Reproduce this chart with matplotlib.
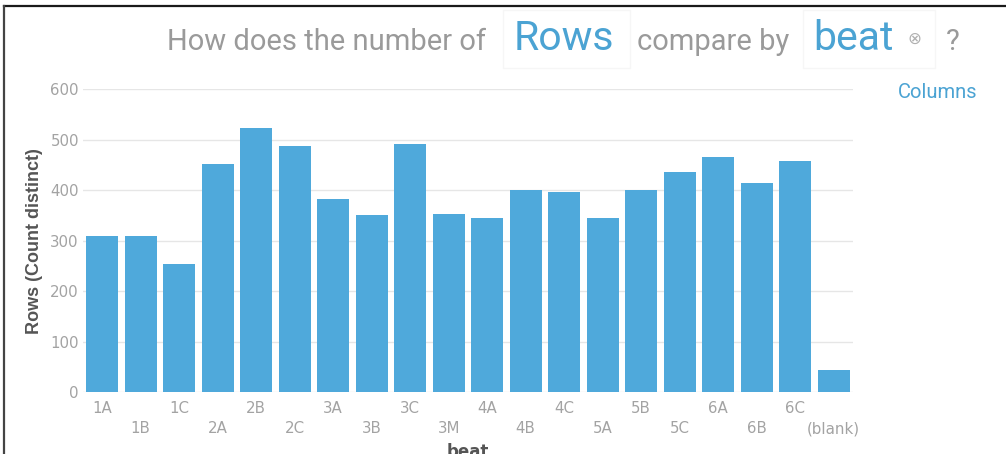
import matplotlib
matplotlib.use("Agg")
import matplotlib.pyplot as plt
from matplotlib.lines import Line2D
from matplotlib.patches import Rectangle

# Distinct row counts per beat
beats = ["1A", "1B", "1C", "2A", "2B", "2C", "3A", "3B", "3C", "3M",
         "4A", "4B", "4C", "5A", "5B", "5C", "6A", "6B", "6C", "(blank)"]
row_counts = [309, 309, 255, 452, 523, 487, 382, 351, 492, 353,
              346, 401, 397, 346, 400, 436, 466, 415, 459, 44]
y_ticks = [0, 100, 200, 300, 400, 500, 600]

BAR_BLUE = "#4fa9db"
TITLE_BLUE = "#4ba3d3"
SOFT_GRAY = "#9a9a9a"
TICK_GRAY = "#a3a3a3"
LABEL_GRAY = "#555555"

W, H = 1006, 454
fig = plt.figure(figsize=(W / 100, H / 100), dpi=100)
fig.patch.set_facecolor("white")

def fx(px):
    return px / W

def fy(py):
    return 1 - py / H

ax = fig.add_axes([fx(83), fy(392.3), fx(853) - fx(83), fy(89.3) - fy(392.3)])
x = list(range(len(beats)))
ax.bar(x, row_counts, width=0.83, color=BAR_BLUE, zorder=2)
ax.set_xlim(-0.5, len(beats) - 0.5)
ax.set_ylim(0, 600)

ax.set_yticks(y_ticks)
ax.set_yticklabels([str(v) for v in y_ticks])
ax.grid(axis="y", color="#e6e6e6", linewidth=1, zorder=0)
ax.set_axisbelow(True)
for s in ax.spines.values():
    s.set_visible(False)

tick_font = "DejaVu Sans"
ax.tick_params(axis="y", length=0, pad=3, labelsize=10.8, labelcolor=TICK_GRAY)
for t in ax.get_yticklabels():
    t.set_fontfamily(tick_font)

# alternate x labels over two rows
ax.set_xticks(x[0::2], beats[0::2])
ax.set_xticks(x[1::2], beats[1::2], minor=True)
ax.tick_params(axis="x", which="both", length=0, labelsize=10.8, labelcolor=TICK_GRAY)
ax.tick_params(axis="x", which="major", pad=6)
ax.tick_params(axis="x", which="minor", pad=21)
for t in ax.get_xticklabels() + ax.get_xticklabels(minor=True):
    t.set_fontfamily(tick_font)

# axis titles
fig.text(fx(35), (fy(89.3) + fy(392.3)) / 2, "Rows (Count distinct)", rotation=90,
         fontsize=13, fontweight="bold", color=LABEL_GRAY,
         fontfamily="Liberation Sans", ha="center", va="center")
fig.text(fx(468), fy(443), "beat", fontsize=12, fontweight="bold",
         color=LABEL_GRAY, fontfamily="DejaVu Sans", ha="center", va="top")

# question-style header
title_font = "Roboto"
base = fy(50)
fig.text(fx(167), base, "How does the number of", fontsize=21,
         color=SOFT_GRAY, fontfamily=title_font, va="baseline", ha="left")
fig.text(fx(514), base, "Rows", fontsize=29.5, color=TITLE_BLUE,
         fontfamily=title_font, va="baseline", ha="left")
fig.text(fx(637), base, "compare by", fontsize=21, color=SOFT_GRAY,
         fontfamily=title_font, va="baseline", ha="left")
fig.text(fx(813), base, "beat", fontsize=29.5, color=TITLE_BLUE,
         fontfamily=title_font, va="baseline", ha="left")
fig.text(fx(914), fy(39), "\u2297", fontsize=12, color="#b0b0b0",
         fontfamily="DejaVu Sans", va="center", ha="center")
fig.text(fx(946), base, "?", fontsize=21, color=SOFT_GRAY,
         fontfamily=title_font, va="baseline", ha="left")

# faint selector boxes behind the blue words
for left, right in [(503, 630), (803, 935)]:
    fig.add_artist(Rectangle((fx(left), fy(68)), fx(right) - fx(left), fy(10) - fy(68),
                             transform=fig.transFigure, fill=False,
                             edgecolor="#f6f6f6", linewidth=1))

fig.text(fx(898), fy(92), "Columns", fontsize=14.5, color=TITLE_BLUE,
         fontfamily=title_font, va="center", ha="left")

# window frame edges
fig.add_artist(Line2D([fx(4), 1], [fy(6), fy(6)], transform=fig.transFigure,
                      color="#1a1a1a", linewidth=1.6))
fig.add_artist(Line2D([fx(4), fx(4)], [fy(6), 0], transform=fig.transFigure,
                      color="#444444", linewidth=1.6))

fig.savefig("out.png", dpi=100, facecolor="white")
